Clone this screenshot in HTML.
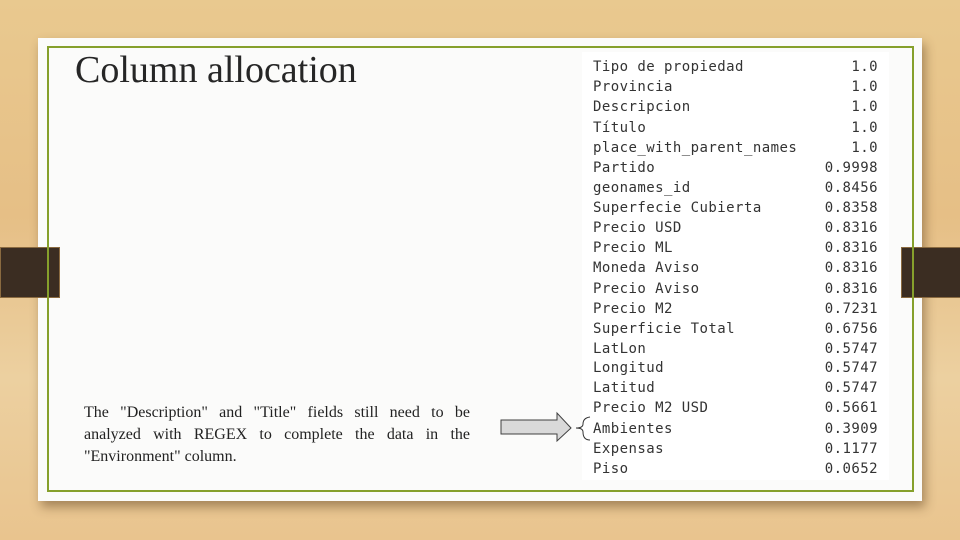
<!DOCTYPE html>
<html><head><meta charset="utf-8"><style>
*{margin:0;padding:0;box-sizing:border-box}
body{width:960px;height:540px;overflow:hidden;position:relative;
background:linear-gradient(180deg,#e9c98f 0%,#e6bf86 40%,#ecd0a0 70%,#e9c48e 100%);}
.card{position:absolute;left:38px;top:38px;width:884px;height:463px;background:#fbfbfa;box-shadow:3px 6px 10px rgba(80,50,20,.45)}
.border{position:absolute;left:47px;top:46px;width:867px;height:446px;border:2px solid #86a02c}
.tab{position:absolute;top:247px;width:60px;height:51px;background:#3b2d22;border:1px solid #8a6a40}
h1{position:absolute;left:75px;top:48px;font:400 38px "Liberation Serif",serif;color:#262626}
.p{position:absolute;left:84px;top:402px;width:386px;font:16px/22px "Liberation Serif",serif;color:#222;text-align:justify}
.tbl{position:absolute;left:582px;top:52px;width:307px;height:428px;background:#fff}
.row{position:absolute;left:11px;width:285px;font:14px "DejaVu Sans Mono","Liberation Mono",monospace;color:#333;height:20px;letter-spacing:0.45px}
.row span{position:absolute;right:0}
</style></head><body>
<div class="card"></div>
<div class="tab" style="left:0"></div>
<div class="tab" style="left:901px"></div>
<div class="border"></div>
<h1>Column allocation</h1>
<div class="tbl">
<div class="row" style="top:7px">Tipo de propiedad<span>1.0</span></div>
<div class="row" style="top:27px">Provincia<span>1.0</span></div>
<div class="row" style="top:47px">Descripcion<span>1.0</span></div>
<div class="row" style="top:68px">Título<span>1.0</span></div>
<div class="row" style="top:88px">place_with_parent_names<span>1.0</span></div>
<div class="row" style="top:108px">Partido<span>0.9998</span></div>
<div class="row" style="top:128px">geonames_id<span>0.8456</span></div>
<div class="row" style="top:148px">Superfecie Cubierta<span>0.8358</span></div>
<div class="row" style="top:168px">Precio USD<span>0.8316</span></div>
<div class="row" style="top:188px">Precio ML<span>0.8316</span></div>
<div class="row" style="top:208px">Moneda Aviso<span>0.8316</span></div>
<div class="row" style="top:229px">Precio Aviso<span>0.8316</span></div>
<div class="row" style="top:249px">Precio M2<span>0.7231</span></div>
<div class="row" style="top:269px">Superficie Total<span>0.6756</span></div>
<div class="row" style="top:289px">LatLon<span>0.5747</span></div>
<div class="row" style="top:308px">Longitud<span>0.5747</span></div>
<div class="row" style="top:328px">Latitud<span>0.5747</span></div>
<div class="row" style="top:348px">Precio M2 USD<span>0.5661</span></div>
<div class="row" style="top:369px">Ambientes<span>0.3909</span></div>
<div class="row" style="top:389px">Expensas<span>0.1177</span></div>
<div class="row" style="top:409px">Piso<span>0.0652</span></div>
</div>
<svg style="position:absolute;left:0;top:0" width="960" height="540">
<polygon points="501,420 557,420 557,413 571,428 557,441 557,434 501,434" fill="#d9d9d9" stroke="#404040" stroke-width="1"/>
<path d="M590,417 Q583,418 583,424 Q583,428 576,428 Q583,428 583,432 Q583,440 590,440" fill="none" stroke="#333" stroke-width="1"/>
</svg>
<div class="p" style="text-align-last:left">The "Description" and "Title" fields still need to be analyzed with REGEX to complete the data in the "Environment" column.</div>
</body></html>
